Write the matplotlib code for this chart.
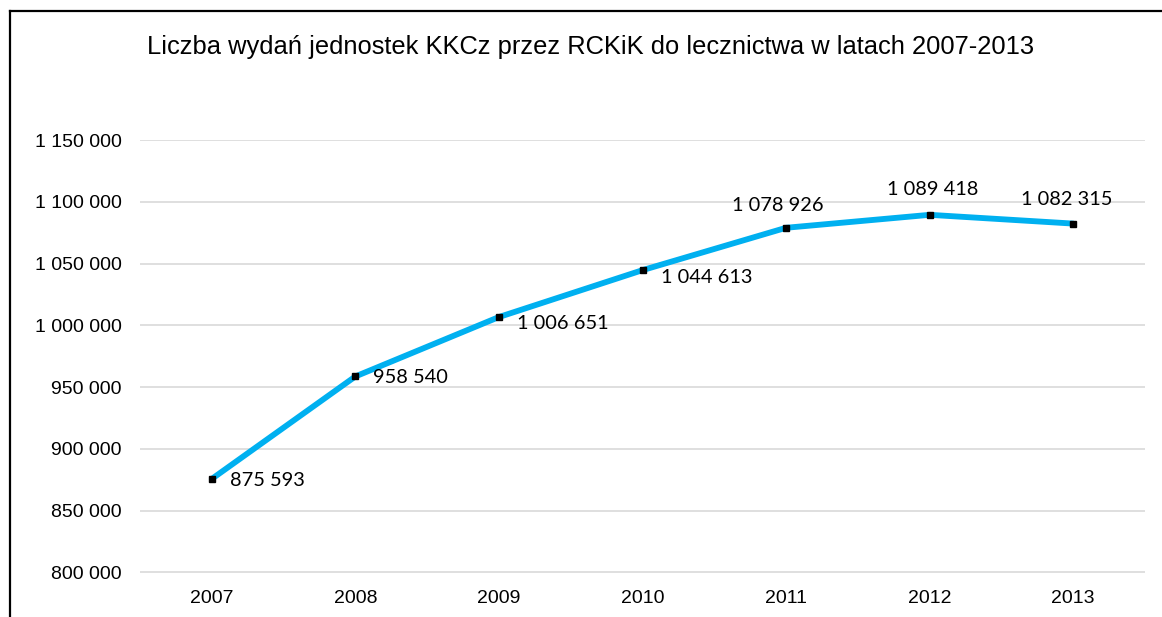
import matplotlib
matplotlib.use("Agg")
import matplotlib.pyplot as plt
from matplotlib.lines import Line2D

years = ["2007", "2008", "2009", "2010", "2011", "2012", "2013"]
values = [875593, 958540, 1006651, 1044613, 1078926, 1089418, 1082315]
yticks = [800000, 850000, 900000, 950000, 1000000, 1050000, 1100000, 1150000]
title = "Liczba wydań jednostek KKCz przez RCKiK do lecznictwa w latach 2007-2013"

# label placement (style only)
label_offsets = [(13, -1), (13, -1), (13, -5), (13, -5), (-6, 16), (2, 18), (-5, 17)]
label_ha = ["left", "left", "left", "left", "center", "center", "center"]

def fmt(v):
    return f"{v:,}".replace(",", " ")

W, H = 1162, 617
fig = plt.figure(figsize=(W / 100, H / 100), dpi=100)
ax = fig.add_axes([140 / W, 1 - 573 / H, (1145 - 140) / W, (573 - 140) / H])

x = list(range(len(years)))
ax.plot(x, values, color="#00B0F0", lw=4.2, solid_capstyle="round", zorder=3)
ax.plot(x, values, ls="none", marker="s", ms=5, color="black", zorder=4)

ax.set_xlim(-0.5, len(years) - 0.5)
ax.set_ylim(yticks[0] - 600, yticks[-1])
ax.set_yticks(yticks)
ax.set_yticklabels([fmt(v) for v in yticks], fontfamily="Liberation Sans", fontsize=14)
ax.set_xticks(x)
ax.set_xticklabels(years, fontfamily="Liberation Sans", fontsize=14)
ax.tick_params(axis="y", length=0, pad=13)
ax.tick_params(axis="x", length=0, pad=12)
ax.grid(axis="y", color="#D9D9D9", lw=1.2)
ax.set_axisbelow(True)
for s in ax.spines.values():
    s.set_visible(False)

for xi, v, off, ha in zip(x, values, label_offsets, label_ha):
    ax.annotate(fmt(v), (xi, v), xytext=off, textcoords="offset points",
                ha=ha, va="center", fontfamily="Lato", fontsize=14.4)

fig.text(0.5 * (148 + 1033) / W, 1 - 47 / H, title, ha="center", va="center",
         fontfamily="Liberation Sans", fontsize=18.4)

# partial border
fig.add_artist(Line2D([10 / W, 10 / W], [0, 1 - 11 / H], color="black", lw=1.6,
                      transform=fig.transFigure))
fig.add_artist(Line2D([10 / W, 1], [1 - 11 / H, 1 - 11 / H], color="black", lw=1.6,
                      transform=fig.transFigure))

fig.savefig("out.png", dpi=100)
